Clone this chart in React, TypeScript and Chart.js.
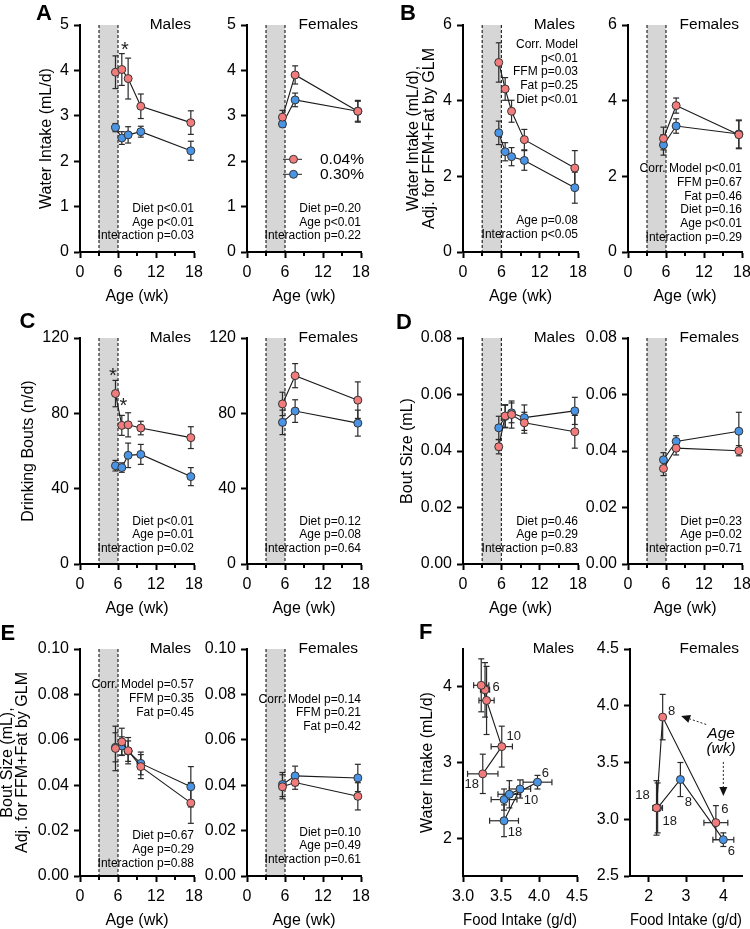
import React, { useEffect, useRef } from 'react';
import { Chart, registerables } from 'chart.js';
Chart.register(...registerables);

// ---------------- data ----------------
const dietLabels = ['0.04%', '0.30%'];
const agesM = [5.6, 6.6, 7.6, 9.6, 17.5];
const agesF = [5.6, 7.6, 17.5];
const ageTicks = [0, 3, 6, 9, 12, 15, 18];
const ageLabelTicks = [0, 6, 12, 18];
const ageMinorTicks = [3, 9, 15];
const lactationBand = [3, 6];

// A: water intake (mL/d)
const waterM04 = [3.96, 4.02, 3.82, 3.21, 2.85];
const waterM04Err = [0.36, 0.35, 0.45, 0.27, 0.26];
const waterM30 = [2.74, 2.51, 2.58, 2.65, 2.23];
const waterM30Err = [0.09, 0.14, 0.18, 0.12, 0.21];
const waterF04 = [2.97, 3.9, 3.1];
const waterF04Err = [0.15, 0.2, 0.24];
const waterF30 = [2.82, 3.35, 3.1];
const waterF30Err = [0.06, 0.15, 0.22];
const waterTicks = [0, 1, 2, 3, 4, 5];

// B: adjusted water intake
const adjWaterM04 = [5.01, 4.31, 3.72, 2.97, 2.22];
const adjWaterM04Err = [0.52, 0.3, 0.29, 0.27, 0.46];
const adjWaterM30 = [3.15, 2.65, 2.52, 2.42, 1.7];
const adjWaterM30Err = [0.31, 0.24, 0.24, 0.26, 0.41];
const adjWaterF04 = [3.0, 3.87, 3.1];
const adjWaterF04Err = [0.3, 0.2, 0.37];
const adjWaterF30 = [2.83, 3.33, 3.12];
const adjWaterF30Err = [0.27, 0.19, 0.37];
const adjWaterTicks = [0, 2, 4, 6];

// C: drinking bouts (n/d)
const boutsM04 = [90.5, 73.6, 73.9, 72.2, 67.1];
const boutsM04Err = [7, 5.3, 6.4, 3.6, 5.8];
const boutsM30 = [52.2, 51.2, 57.7, 58.2, 46.4];
const boutsM30Err = [2.8, 2.5, 6.5, 5.3, 4.8];
const boutsF04 = [85.0, 100.0, 87.0];
const boutsF04Err = [6.2, 6.4, 9.7];
const boutsF30 = [75.2, 81.2, 74.8];
const boutsF30Err = [6.5, 6.0, 6.9];
const boutsTicks = [0, 40, 80, 120];

// D: bout size (mL)
const sizeM04 = [0.0415, 0.0524, 0.0529, 0.05, 0.0468];
const sizeM04Err = [0.0025, 0.004, 0.0048, 0.0037, 0.0058];
const sizeM30 = [0.0482, 0.0522, 0.0535, 0.0518, 0.0542];
const sizeM30Err = [0.0041, 0.004, 0.0035, 0.0045, 0.0048];
const sizeF04 = [0.0338, 0.041, 0.0401];
const sizeF04Err = [0.0025, 0.0024, 0.0018];
const sizeF30 = [0.0369, 0.0434, 0.047];
const sizeF30Err = [0.0025, 0.002, 0.0067];
const sizeTicks = [0, 0.02, 0.04, 0.06, 0.08];

// E: adjusted bout size (mL)
const adjSizeM04 = [0.0562, 0.0591, 0.0552, 0.0482, 0.0322];
const adjSizeM04Err = [0.0098, 0.006, 0.0058, 0.0053, 0.009];
const adjSizeM30 = [0.0567, 0.0573, 0.055, 0.0496, 0.0393];
const adjSizeM30Err = [0.0064, 0.004, 0.0045, 0.005, 0.0089];
const adjSizeF04 = [0.0393, 0.0412, 0.0351];
const adjSizeF04Err = [0.0053, 0.003, 0.006];
const adjSizeF30 = [0.0403, 0.0441, 0.0432];
const adjSizeF30Err = [0.0053, 0.0043, 0.006];
const adjSizeTicks = [0, 0.02, 0.04, 0.06, 0.08, 0.1];

// F: food intake (g/d) vs water intake
const foodM04 = [3.29, 3.24, 3.31, 3.51, 3.26];
const foodM04Err = [0.06, 0.1, 0.1, 0.14, 0.2];
const foodM30 = [3.98, 3.54, 3.61, 3.75, 3.54];
const foodM30Err = [0.19, 0.17, 0.15, 0.14, 0.19];
const foodF04 = [3.8, 2.375, 2.21];
const foodF04Err = [0.32, 0.03, 0.08];
const foodF30 = [4.0, 2.85, 2.24];
const foodF30Err = [0.28, 0.05, 0.13];
const ageLabelsM = ['6', '', '', '10', '18'];
const ageLabelsF = ['6', '8', '18'];
const foodMTicks = [3, 3.5, 4, 4.5];
const waterMTicksF = [2, 3, 4];
const foodFTicks = [2, 3, 4];
const waterFTicksF = [2.5, 3, 3.5, 4, 4.5];

// statistics text
const statsAM = ['Diet p<0.01', 'Age p<0.01', 'Interaction p=0.03'];
const statsAF = ['Diet p=0.20', 'Age p<0.01', 'Interaction p=0.22'];
const statsBMtop = ['Corr. Model', 'p<0.01', 'FFM p=0.03', 'Fat p=0.25', 'Diet p<0.01'];
const statsBMbot = ['Age p=0.08', 'Interaction p<0.05'];
const statsBF = ['Corr. Model p<0.01', 'FFM p=0.67', 'Fat p=0.46', 'Diet p=0.16', 'Age p<0.01', 'Interaction p=0.29'];
const statsCM = ['Diet p<0.01', 'Age p=0.01', 'Interaction p=0.02'];
const statsCF = ['Diet p=0.12', 'Age p=0.08', 'Interaction p=0.64'];
const statsDM = ['Diet p=0.46', 'Age p=0.29', 'Interaction p=0.83'];
const statsDF = ['Diet p=0.23', 'Age p=0.02', 'Interaction p=0.71'];
const statsEMtop = ['Corr. Model p=0.57', 'FFM p=0.35', 'Fat p=0.45'];
const statsEMbot = ['Diet p=0.67', 'Age p=0.29', 'Interaction p=0.88'];
const statsEFtop = ['Corr. Model p=0.14', 'FFM p=0.21', 'Fat p=0.42'];
const statsEFbot = ['Diet p=0.10', 'Age p=0.49', 'Interaction p=0.61'];

// significance markers (data coordinates)
const starsA = [{ x: 7.1, y: 4.58 }];
const starsC = [{ x: 5.2, y: 102.5 }, { x: 6.85, y: 86.7 }];

// F female annotation (data coordinates)
const ageArrowsF = [
  { from: [3.54, 3.835], to: [2.87, 3.91] },
  { from: [4.0, 3.505], to: [4.0, 3.205] },
];
const ageNoteF = [
  { x: 3.94, y: 3.756, text: 'Age' },
  { x: 3.94, y: 3.624, text: '(wk)' },
];

// ---------------- styling ----------------
const FONT = "'Liberation Sans', Arial, Helvetica, sans-serif";
const RED = '#F27C7C';
const BLUE = '#4A94E6';
const INK = '#000000';
const PAD_L = 80, PAD_R = 14, PAD_T = 22, PAD_B = 62;
const CAP = 3;
const LINE_GAP = 13.7;
const TICK_SIZE = 16;
const TITLE_SIZE = 16;

type Series = {
  name: string; color: string;
  x: number[]; y: number[]; yErr: number[]; xErr?: number[];
  ptLabels?: string[]; ptLabelOff?: [number, number][];
};
type TextBlock = { lines: string[]; y: number; gap?: number };
type Panel = {
  key: string;
  rect: [number, number, number, number];
  xMin: number; xMax: number; xTicks: number[]; xFmt: (v: number) => string; xMinor?: number[];
  yMin: number; yMax: number; yTicks: number[]; yFmt: (v: number) => string;
  xTitle: string; xTitlePad: number;
  yTitle?: string | string[]; yTitlePad?: number; yTitleLH?: number;
  sex: string;
  band?: number[];
  texts: TextBlock[];
  series: Series[];
  legend?: boolean;
  stars?: { x: number; y: number }[];
  arrows?: { from: number[]; to: number[] }[];
  notes?: { x: number; y: number; text: string }[];
};

const xAge = (v: number) => (ageLabelTicks.includes(v) ? String(v) : '');
const f0 = (v: number) => String(v);
const f1 = (v: number) => v.toFixed(1);
const f2 = (v: number) => v.toFixed(2);

const S = (name: string, color: string, x: number[], y: number[], yErr: number[], xErr?: number[], ptLabels?: string[], ptLabelOff?: [number, number][]): Series =>
  ({ name, color, x, y, yErr, xErr, ptLabels, ptLabelOff });

const ageAxis = { xMin: 0, xMax: 18, xTicks: ageTicks, xFmt: xAge, xMinor: ageMinorTicks, xTitle: 'Age (wk)', band: lactationBand };
const XT = 7.8;

const panels: Panel[] = [
  { key: 'AM', rect: [80, 25, 194, 252], ...ageAxis, xTitlePad: XT, yMin: 0, yMax: 5, yTicks: waterTicks, yFmt: f0,
    yTitle: 'Water Intake (mL/d)', yTitlePad: 36.7, yTitleLH: 1.2, sex: 'Males',
    texts: [{ lines: statsAM, y: 183.5 }],
    series: [S(dietLabels[0], RED, agesM, waterM04, waterM04Err), S(dietLabels[1], BLUE, agesM, waterM30, waterM30Err)],
    stars: starsA },
  { key: 'AF', rect: [247, 25, 361, 252], ...ageAxis, xTitlePad: XT, yMin: 0, yMax: 5, yTicks: waterTicks, yFmt: f0,
    sex: 'Females', texts: [{ lines: statsAF, y: 183.5 }], legend: true,
    series: [S(dietLabels[0], RED, agesF, waterF04, waterF04Err), S(dietLabels[1], BLUE, agesF, waterF30, waterF30Err)] },
  { key: 'BM', rect: [463, 25, 578, 252], ...ageAxis, xTitlePad: XT, yMin: 0, yMax: 6, yTicks: adjWaterTicks, yFmt: f0,
    yTitle: ['Water Intake (mL/d),', 'Adj. for FFM+Fat by GLM'], yTitlePad: 23.4, yTitleLH: 0.95, sex: 'Males',
    texts: [{ lines: statsBMtop, y: 19.3, gap: 13.9 }, { lines: statsBMbot, y: 195.7 }],
    series: [S(dietLabels[0], RED, agesM, adjWaterM04, adjWaterM04Err), S(dietLabels[1], BLUE, agesM, adjWaterM30, adjWaterM30Err)] },
  { key: 'BF', rect: [628, 25, 742, 252], ...ageAxis, xTitlePad: XT, yMin: 0, yMax: 6, yTicks: adjWaterTicks, yFmt: f0,
    sex: 'Females', texts: [{ lines: statsBF, y: 144 }],
    series: [S(dietLabels[0], RED, agesF, adjWaterF04, adjWaterF04Err), S(dietLabels[1], BLUE, agesF, adjWaterF30, adjWaterF30Err)] },
  { key: 'CM', rect: [80, 338, 194, 564], ...ageAxis, xTitlePad: XT, yMin: 0, yMax: 120, yTicks: boutsTicks, yFmt: f0,
    yTitle: 'Drinking Bouts (n/d)', yTitlePad: 18.9, yTitleLH: 1.2, sex: 'Males',
    texts: [{ lines: statsCM, y: 183.3 }],
    series: [S(dietLabels[0], RED, agesM, boutsM04, boutsM04Err), S(dietLabels[1], BLUE, agesM, boutsM30, boutsM30Err)],
    stars: starsC },
  { key: 'CF', rect: [247, 338, 361, 564], ...ageAxis, xTitlePad: XT, yMin: 0, yMax: 120, yTicks: boutsTicks, yFmt: f0,
    sex: 'Females', texts: [{ lines: statsCF, y: 183.3 }],
    series: [S(dietLabels[0], RED, agesF, boutsF04, boutsF04Err), S(dietLabels[1], BLUE, agesF, boutsF30, boutsF30Err)] },
  { key: 'DM', rect: [463, 338, 578, 564], ...ageAxis, xTitlePad: XT, yMin: 0, yMax: 0.08, yTicks: sizeTicks, yFmt: f2,
    yTitle: 'Bout Size (mL)', yTitlePad: 14.9, yTitleLH: 1.2, sex: 'Males',
    texts: [{ lines: statsDM, y: 183.3 }],
    series: [S(dietLabels[0], RED, agesM, sizeM04, sizeM04Err), S(dietLabels[1], BLUE, agesM, sizeM30, sizeM30Err)] },
  { key: 'DF', rect: [628, 338, 742, 564], ...ageAxis, xTitlePad: XT, yMin: 0, yMax: 0.08, yTicks: sizeTicks, yFmt: f2,
    sex: 'Females', texts: [{ lines: statsDF, y: 183.3 }],
    series: [S(dietLabels[0], RED, agesF, sizeF04, sizeF04Err), S(dietLabels[1], BLUE, agesF, sizeF30, sizeF30Err)] },
  { key: 'EM', rect: [80, 649, 194, 876], ...ageAxis, xTitlePad: XT, yMin: 0, yMax: 0.1, yTicks: adjSizeTicks, yFmt: f2,
    yTitle: ['Bout Size (mL),', 'Adj. for FFM+Fat by GLM'], yTitlePad: 0, yTitleLH: 0.95, sex: 'Males',
    texts: [{ lines: statsEMtop, y: 36 }, { lines: statsEMbot, y: 187 }],
    series: [S(dietLabels[0], RED, agesM, adjSizeM04, adjSizeM04Err), S(dietLabels[1], BLUE, agesM, adjSizeM30, adjSizeM30Err)] },
  { key: 'EF', rect: [247, 649, 361, 876], ...ageAxis, xTitlePad: XT, yMin: 0, yMax: 0.1, yTicks: adjSizeTicks, yFmt: f2,
    sex: 'Females', texts: [{ lines: statsEFtop, y: 50.3 }, { lines: statsEFbot, y: 183.3 }],
    series: [S(dietLabels[0], RED, agesF, adjSizeF04, adjSizeF04Err), S(dietLabels[1], BLUE, agesF, adjSizeF30, adjSizeF30Err)] },
  { key: 'FM', rect: [463, 649, 577, 876], xMin: 3, xMax: 4.5, xTicks: foodMTicks, xFmt: f1,
    yMin: 1.5, yMax: 4.5, yTicks: waterMTicksF, yFmt: f0, xTitle: 'Food Intake (g/d)', xTitlePad: XT,
    yTitle: 'Water Intake (mL/d)', yTitlePad: 35.4, yTitleLH: 1.2, sex: 'Males', texts: [],
    series: [
      S(dietLabels[0], RED, foodM04, waterM04, waterM04Err, foodM04Err, ageLabelsM, [[11, -2], [0, 0], [0, 0], [12, -10], [-11, 11]]),
      S(dietLabels[1], BLUE, foodM30, waterM30, waterM30Err, foodM30Err, ageLabelsM, [[8, -9], [0, 0], [0, 0], [11, 11], [11, 12]]),
    ] },
  { key: 'FF', rect: [630, 649, 742, 876], xMin: 1.5, xMax: 4.5, xTicks: foodFTicks, xFmt: f0,
    yMin: 2.5, yMax: 4.5, yTicks: waterFTicksF, yFmt: f1, xTitle: 'Food Intake (g/d)', xTitlePad: XT,
    sex: 'Females', texts: [],
    series: [
      S(dietLabels[0], RED, foodF04, waterF04, waterF04Err, foodF04Err, ageLabelsF, [[9, -13], [9, -6], [-14, -12]]),
      S(dietLabels[1], BLUE, foodF30, waterF30, waterF30Err, foodF30Err, ageLabelsF, [[8, 12], [8, 23], [12, 14]]),
    ],
    arrows: ageArrowsF, notes: ageNoteF },
];

function strokeLine(ctx: CanvasRenderingContext2D, x1: number, y1: number, x2: number, y2: number) {
  ctx.beginPath(); ctx.moveTo(x1, y1); ctx.lineTo(x2, y2); ctx.stroke();
}

function makeDeco(p: Panel) {
  return {
    id: 'deco' + p.key,
    beforeDatasetsDraw(chart: any) {
      const { ctx, chartArea: a, scales } = chart;
      const x = scales.x, y = scales.y;
      ctx.save();
      if (p.band) {
        const x0 = x.getPixelForValue(p.band[0]);
        const x1 = x.getPixelForValue(p.band[1]);
        ctx.fillStyle = '#d6d6d6';
        ctx.fillRect(x0, a.top, x1 - x0, a.bottom - a.top - 1);
        ctx.strokeStyle = INK; ctx.lineWidth = 1; ctx.setLineDash([3, 2]);
        strokeLine(ctx, x0, a.top, x0, a.bottom);
        strokeLine(ctx, x1, a.top, x1, a.bottom);
        ctx.setLineDash([]);
      }
      ctx.strokeStyle = '#2a2a2a'; ctx.lineWidth = 1.2;
      [...p.series].reverse().forEach((s) => {
        s.x.forEach((xv, i) => {
          const px = x.getPixelForValue(xv), py = y.getPixelForValue(s.y[i]);
          const e = s.yErr[i];
          if (e) {
            const t = y.getPixelForValue(s.y[i] + e), b = y.getPixelForValue(s.y[i] - e);
            strokeLine(ctx, px, t, px, b);
            strokeLine(ctx, px - CAP, t, px + CAP, t);
            strokeLine(ctx, px - CAP, b, px + CAP, b);
          }
          const xe = s.xErr ? s.xErr[i] : 0;
          if (xe) {
            const l = x.getPixelForValue(xv - xe), r = x.getPixelForValue(xv + xe);
            strokeLine(ctx, l, py, r, py);
            strokeLine(ctx, l, py - CAP, l, py + CAP);
            strokeLine(ctx, r, py - CAP, r, py + CAP);
          }
        });
      });
      ctx.restore();
    },
    afterDatasetsDraw(chart: any) {
      const { ctx, chartArea: a, scales } = chart;
      const x = scales.x, y = scales.y;
      ctx.save();
      ctx.fillStyle = INK;
      ctx.font = `15.5px ${FONT}`;
      ctx.textAlign = 'right'; ctx.textBaseline = 'middle';
      ctx.fillText(p.sex, a.right - 3, a.top);
      ctx.font = `12px ${FONT}`;
      p.texts.forEach((tb) => {
        tb.lines.forEach((ln, i) => ctx.fillText(ln, a.right, a.top + tb.y + i * (tb.gap || LINE_GAP)));
      });
      ctx.font = `13px ${FONT}`; ctx.textAlign = 'center'; ctx.fillStyle = '#1a1a1a';
      p.series.forEach((s) => {
        if (!s.ptLabels) return;
        s.ptLabels.forEach((lab, i) => {
          if (!lab) return;
          const off = s.ptLabelOff ? s.ptLabelOff[i] : [0, 0];
          ctx.fillText(lab, x.getPixelForValue(s.x[i]) + off[0], y.getPixelForValue(s.y[i]) + off[1]);
        });
      });
      if (p.stars) {
        ctx.font = `20px ${FONT}`; ctx.textAlign = 'center'; ctx.textBaseline = 'alphabetic'; ctx.fillStyle = '#222';
        p.stars.forEach((st) => ctx.fillText('*', x.getPixelForValue(st.x), y.getPixelForValue(st.y) + 11.5));
      }
      if (p.legend) {
        p.series.forEach((s, i) => {
          const ly = a.top + 134.3 + i * 15;
          ctx.strokeStyle = '#222'; ctx.lineWidth = 1;
          strokeLine(ctx, a.left + 36, ly, a.left + 55, ly);
          ctx.beginPath(); ctx.arc(a.left + 46.5, ly, 4, 0, Math.PI * 2);
          ctx.fillStyle = s.color; ctx.fill(); ctx.strokeStyle = '#333'; ctx.stroke();
          ctx.fillStyle = INK; ctx.font = `15.5px ${FONT}`; ctx.textAlign = 'left'; ctx.textBaseline = 'middle';
          ctx.fillText(s.name, a.left + 73, ly + 0.5);
        });
      }
      if (p.arrows) {
        ctx.strokeStyle = '#222'; ctx.fillStyle = '#111'; ctx.lineWidth = 1;
        p.arrows.forEach((ar) => {
          const x1 = x.getPixelForValue(ar.from[0]), y1 = y.getPixelForValue(ar.from[1]);
          const x2 = x.getPixelForValue(ar.to[0]), y2 = y.getPixelForValue(ar.to[1]);
          const ang = Math.atan2(y2 - y1, x2 - x1);
          const L = 9, Wd = 4;
          const bx = x2 - L * Math.cos(ang), by = y2 - L * Math.sin(ang);
          ctx.setLineDash([2, 2]);
          strokeLine(ctx, x1, y1, bx, by);
          ctx.setLineDash([]);
          ctx.beginPath();
          ctx.moveTo(x2, y2);
          ctx.lineTo(bx + Wd * Math.sin(ang), by - Wd * Math.cos(ang));
          ctx.lineTo(bx - Wd * Math.sin(ang), by + Wd * Math.cos(ang));
          ctx.closePath(); ctx.fill();
        });
      }
      if (p.notes) {
        ctx.font = `italic 15.5px ${FONT}`; ctx.textAlign = 'center'; ctx.textBaseline = 'middle'; ctx.fillStyle = INK;
        p.notes.forEach((n) => ctx.fillText(n.text, x.getPixelForValue(n.x), y.getPixelForValue(n.y)));
      }
      ctx.restore();
    },
    afterDraw(chart: any) {
      if (!p.xMinor) return;
      const { ctx, chartArea: a, scales } = chart;
      ctx.save();
      ctx.strokeStyle = INK; ctx.lineWidth = 2;
      p.xMinor.forEach((v) => {
        const px = Math.round(scales.x.getPixelForValue(v));
        strokeLine(ctx, px, a.bottom, px, a.bottom + 4);
      });
      ctx.restore();
    },
  };
}

function buildConfig(p: Panel): any {
  const tickFont = { family: FONT, size: TICK_SIZE };
  const minor = p.xMinor || [];
  return {
    type: 'scatter',
    data: {
      datasets: p.series.map((s, i) => ({
        label: s.name,
        data: s.x.map((xv, j) => ({ x: xv, y: s.y[j] })),
        showLine: true,
        borderColor: '#1a1a1a',
        borderWidth: 1.1,
        pointBackgroundColor: s.color,
        pointBorderColor: '#333',
        pointBorderWidth: 1,
        pointRadius: 4,
        pointHoverRadius: 4,
        order: i,
        clip: false,
        tension: 0,
      })),
    },
    options: {
      responsive: false,
      animation: false,
      devicePixelRatio: 1,
      events: [],
      layout: { padding: { left: 0, top: PAD_T, right: PAD_R, bottom: 0 } },
      plugins: { legend: { display: false }, tooltip: { enabled: false } },
      scales: {
        x: {
          type: 'linear', position: 'bottom', min: p.xMin, max: p.xMax,
          afterBuildTicks: (sc: any) => { sc.ticks = p.xTicks.map((v) => ({ value: v })); },
          afterFit: (sc: any) => { sc.height = PAD_B; sc.paddingLeft = 0; sc.paddingRight = 0; },
          grid: {
            display: true, drawOnChartArea: false, drawTicks: true, tickLength: 6, tickWidth: 2,
            tickColor: (c: any) => (c.tick && minor.includes(c.tick.value) ? 'rgba(0,0,0,0)' : INK),
          },
          border: { display: true, color: INK, width: 2 },
          ticks: { callback: (v: number) => p.xFmt(v), font: tickFont, color: INK, padding: 5.4, maxRotation: 0, autoSkip: false },
          title: { display: true, text: p.xTitle, font: { family: FONT, size: TITLE_SIZE }, color: INK, padding: { top: 0, bottom: p.xTitlePad } },
        },
        y: {
          type: 'linear', position: 'left', min: p.yMin, max: p.yMax,
          afterBuildTicks: (sc: any) => { sc.ticks = p.yTicks.map((v) => ({ value: v })); },
          afterFit: (sc: any) => { sc.width = PAD_L; sc.paddingTop = 0; sc.paddingBottom = 0; },
          grid: { display: true, drawOnChartArea: false, drawTicks: true, tickLength: 6, tickWidth: 2, tickColor: INK },
          border: { display: true, color: INK, width: 2 },
          ticks: { callback: (v: number) => p.yFmt(v), font: tickFont, color: INK, padding: 5, autoSkip: false },
          title: p.yTitle
            ? { display: true, text: p.yTitle, font: { family: FONT, size: TITLE_SIZE, lineHeight: p.yTitleLH }, color: INK, padding: { top: p.yTitlePad, bottom: 0 } }
            : { display: false },
        },
      },
    },
    plugins: [makeDeco(p)],
  };
}

function PanelChart({ p }: { p: Panel }) {
  const ref = useRef<HTMLCanvasElement>(null);
  useEffect(() => {
    if (!ref.current) return;
    const chart = new Chart(ref.current, buildConfig(p));
    return () => chart.destroy();
  }, [p]);
  const [l, t, r, b] = p.rect;
  const W = PAD_L + (r - l) + PAD_R;
  const H = PAD_T + (b - t) + PAD_B;
  return (
    <canvas ref={ref} width={W} height={H}
      style={{ position: 'absolute', left: l - PAD_L, top: t - PAD_T, width: W, height: H }} />
  );
}

const panelLetters = [
  { t: 'A', left: 36, top: 2 },
  { t: 'B', left: 400, top: 2 },
  { t: 'C', left: 19.5, top: 310 },
  { t: 'D', left: 396, top: 311 },
  { t: 'E', left: 0.5, top: 622 },
  { t: 'F', left: 419, top: 621 },
];

export default function App() {
  return (
    <div style={{ position: 'absolute', left: 0, top: 0, width: 750, height: 929, overflow: 'hidden', background: '#fff' }}>
      {panels.map((p) => <PanelChart key={p.key} p={p} />)}
      {panelLetters.map((L) => (
        <div key={L.t} style={{ position: 'absolute', left: L.left, top: L.top, fontFamily: FONT, fontWeight: 'bold', fontSize: 22, lineHeight: '22px', color: INK }}>
          {L.t}
        </div>
      ))}
    </div>
  );
}
